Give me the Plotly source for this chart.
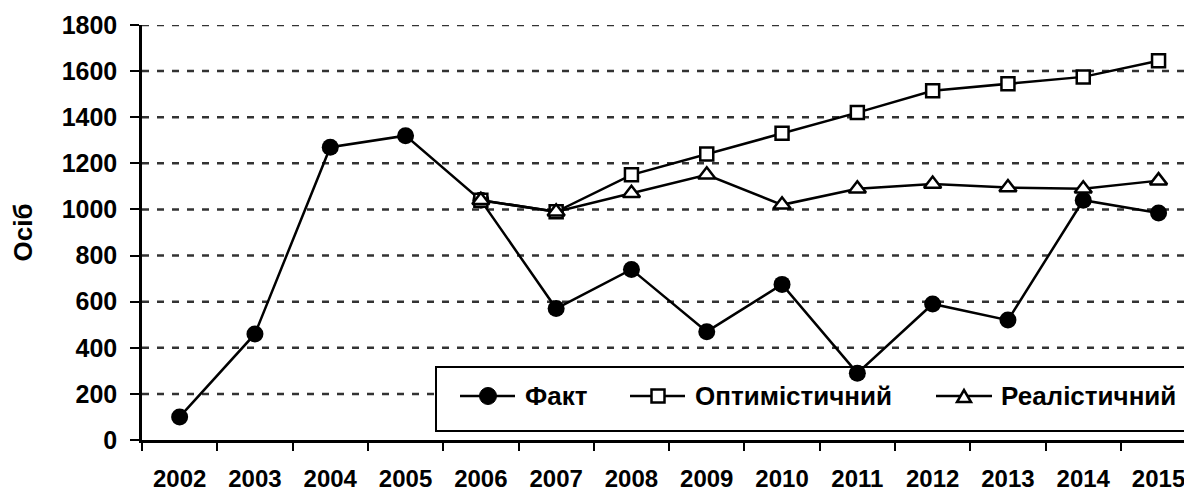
import plotly.graph_objects as go

years = ["2002", "2003", "2004", "2005", "2006", "2007", "2008",
         "2009", "2010", "2011", "2012", "2013", "2014", "2015"]
fakt = [100, 460, 1270, 1320, 1040, 570, 740, 470, 675, 290, 590, 520, 1040, 985]
opt_years = years[4:]
optimistic = [1040, 990, 1150, 1240, 1330, 1420, 1515, 1545, 1575, 1645]
real_years = years[4:]
realistic = [1040, 990, 1070, 1150, 1020, 1090, 1110, 1095, 1090, 1125]
y_ticks = [0, 200, 400, 600, 800, 1000, 1200, 1400, 1600, 1800]

FONT = "Liberation Sans, Arial, sans-serif"
OFF = 8  # default page body margin
W, H = 1192 - OFF, 492 - OFF
L, R, T = 142 - OFF, 0, 25 - OFF
B = H - (440 - OFF)
PW, PH = W - L - R, H - T - B


def px(x):
    # page pixel -> paper coordinate
    return (x - 142) / PW


def py(y):
    return (440 - y) / PH


LW = 2.5
fig = go.Figure()
fig.add_trace(go.Scatter(
    x=years, y=fakt, mode="lines+markers", name="Факт",
    line=dict(color="black", width=LW),
    marker=dict(symbol="circle", size=17, color="black"),
))
fig.add_trace(go.Scatter(
    x=opt_years, y=optimistic, mode="lines+markers", name="Оптимістичний",
    line=dict(color="black", width=LW),
    marker=dict(symbol="square", size=13, color="white",
                line=dict(color="black", width=2.5)),
))
fig.add_trace(go.Scatter(
    x=real_years, y=realistic, mode="lines+markers", name="Реалістичний",
    line=dict(color="black", width=LW),
    marker=dict(symbol="triangle-up", size=15, color="white",
                line=dict(color="black", width=2.5)),
))

shapes = []
annotations = []
# dashed gridlines (as shapes so the legend box can cover them)
for v in y_ticks[1:]:
    shapes.append(dict(type="line", xref="paper", yref="y",
                       x0=0, x1=1, y0=v, y1=v,
                       line=dict(color="#333333", width=2.5, dash="7px,8px"),
                       layer="below"))
# legend box
shapes.append(dict(type="rect", xref="paper", yref="paper",
                   x0=px(436), x1=px(1250), y0=py(431), y1=py(367),
                   line=dict(color="black", width=2), fillcolor="white",
                   layer="below"))
ly = 396
legend_items = [
    (460, 515, 488, 523, "circle", "Факт"),
    (630, 685, 658, 693, "square", "Оптимістичний"),
    (936, 992, 964, 999, "triangle", "Реалістичний"),
]
for x0, x1, cx, tx, sym, label in legend_items:
    shapes.append(dict(type="line", xref="paper", yref="paper",
                       x0=px(x0), x1=px(x1), y0=py(ly), y1=py(ly),
                       line=dict(color="black", width=LW), layer="above"))
    if sym == "circle":
        r = 8.5
        shapes.append(dict(type="circle", xref="paper", yref="paper",
                           x0=px(cx - r), x1=px(cx + r), y0=py(ly + r), y1=py(ly - r),
                           line=dict(color="black", width=1), fillcolor="black",
                           layer="above"))
    elif sym == "square":
        r = 6.5
        shapes.append(dict(type="rect", xref="paper", yref="paper",
                           x0=px(cx - r), x1=px(cx + r), y0=py(ly + r), y1=py(ly - r),
                           line=dict(color="black", width=2.5), fillcolor="white",
                           layer="above"))
    else:
        path = "M {} {} L {} {} L {} {} Z".format(
            px(cx - 7), py(ly + 6), px(cx + 7), py(ly + 6), px(cx), py(ly - 6))
        shapes.append(dict(type="path", xref="paper", yref="paper", path=path,
                           line=dict(color="black", width=2.5), fillcolor="white",
                           layer="above"))
    annotations.append(dict(xref="paper", yref="paper", x=px(tx), y=py(ly),
                            xanchor="left", yanchor="middle", text=label,
                            showarrow=False,
                            font=dict(family=FONT, size=26, color="black", weight="bold")))

fig.update_layout(
    width=W, height=H,
    margin=dict(l=L, r=R, t=T, b=B, autoexpand=False),
    paper_bgcolor="white", plot_bgcolor="white",
    showlegend=False,
    shapes=shapes, annotations=annotations,
    font=dict(family=FONT, color="black"),
)
fig.update_xaxes(
    type="category", categoryorder="array", categoryarray=years,
    range=[-0.5, -0.5 + PW / 75.3],
    showline=True, linecolor="black", linewidth=2.5,
    ticks="outside", ticklen=8, tickwidth=2, tickcolor="black",
    tickson="boundaries", showgrid=False, zeroline=False,
    tickfont=dict(family=FONT, size=24, color="black", weight="bold"),
    ticklabelstandoff=15, automargin=False,
)
fig.update_yaxes(
    range=[0, 1800], tickvals=y_ticks,
    showline=True, linecolor="black", linewidth=2.5,
    ticks="outside", ticklen=9, tickwidth=2, tickcolor="black",
    showgrid=False, zeroline=False,
    tickfont=dict(family=FONT, size=25, color="black", weight="bold"),
    ticklabelstandoff=8,
    title=dict(text="Осіб", standoff=28,
               font=dict(family=FONT, size=26, color="black", weight="bold")),
    automargin=False,
)

fig.write_html("out.html")
